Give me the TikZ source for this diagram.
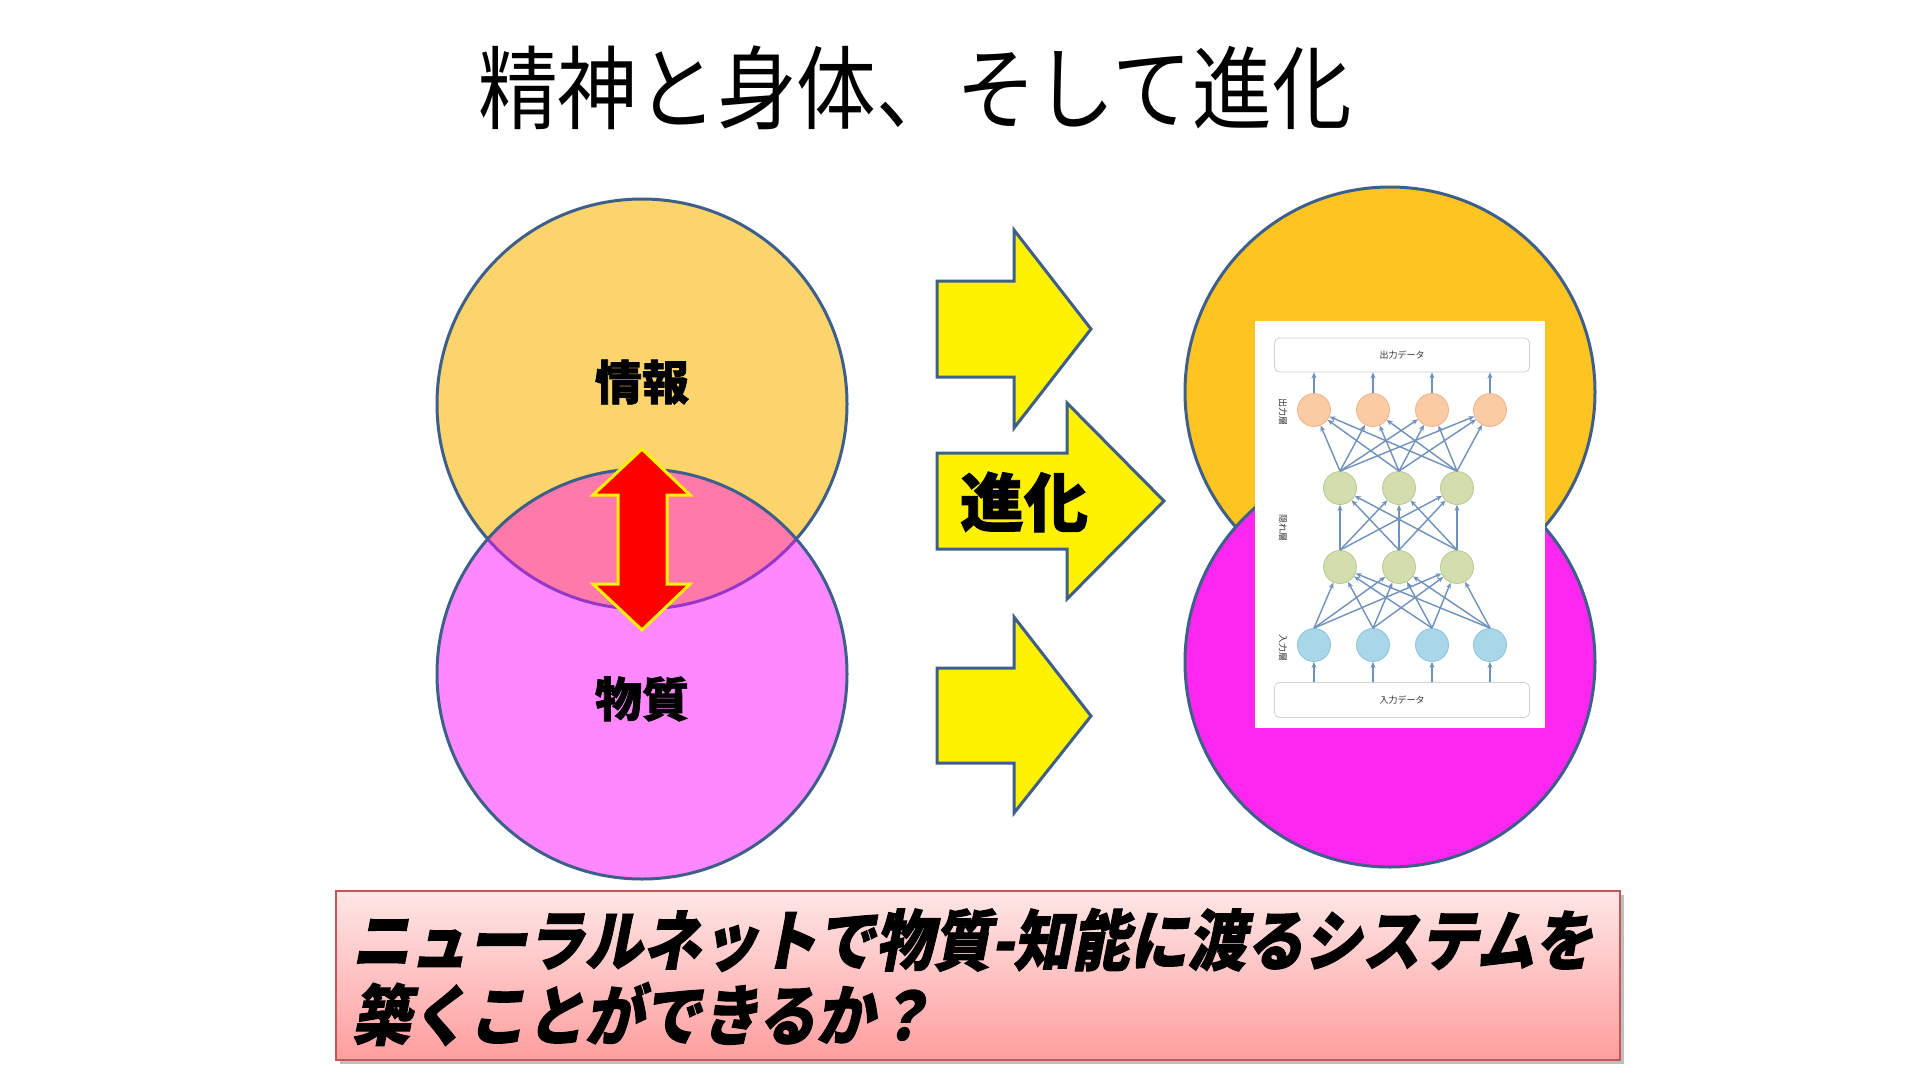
\documentclass[tikz,border=0pt]{standalone}
\usepackage{fontspec}
\setmainfont{Noto Sans CJK JP}
\newfontfamily\jpit{Noto Sans CJK JP}[FakeSlant=0.22, FakeBold=1.5]
\newfontfamily\jpheavy{Noto Sans CJK JP}[FakeBold=1.5]
\usetikzlibrary{arrows.meta}
\definecolor{upL}{RGB}{251,213,107}
\definecolor{lowL}{RGB}{255,136,255}
\definecolor{ovL}{RGB}{255,122,170}
\definecolor{upR}{RGB}{253,196,34}
\definecolor{lowR}{RGB}{255,38,240}
\definecolor{edge}{RGB}{61,95,138}
\definecolor{purp}{RGB}{150,55,200}
\definecolor{nnedge}{RGB}{110,145,190}
\definecolor{outc}{RGB}{251,203,164}
\definecolor{outb}{RGB}{240,180,140}
\definecolor{hidc}{RGB}{210,222,174}
\definecolor{hidb}{RGB}{185,201,143}
\definecolor{inc}{RGB}{169,214,232}
\definecolor{inb}{RGB}{142,195,216}
\definecolor{boxtop}{RGB}{255,230,230}
\definecolor{boxbot}{RGB}{255,158,158}
\definecolor{boxline}{RGB}{200,85,85}
\tikzset{
  bigcirc/.style={circle, minimum size=410pt, inner sep=0pt, draw=edge, line width=3pt},
  yarrow/.style={fill=yellow, draw=edge, line width=3pt, line join=miter},
  nn/.style={circle, minimum size=33pt, inner sep=0pt, line width=0.8pt},
  nnline/.style={draw=nnedge, line width=1.4pt, -{Stealth[length=6pt,width=5pt]}},
  databox/.style={draw=black!18, line width=0.8pt, rounded corners=5pt, fill=white, minimum width=255pt, inner sep=0pt},
  lbl/.style={font=\jpheavy\bfseries\fontsize{47}{50}\selectfont},
  side/.style={rotate=-90, font=\fontsize{9}{10}\selectfont, text=black!80},
  qtext/.style={anchor=west, xscale=0.88, font=\jpit\bfseries\fontsize{66}{70}\selectfont, inner sep=0pt}
}
\begin{document}
\begin{tikzpicture}[x=1pt,y=-1pt]
\fill[white] (0,0) rectangle (1920,1080);
\useasboundingbox (0,0) rectangle (1920,1080);

% title
\node[xscale=0.875, font=\fontsize{91}{100}\selectfont] (title) at (915,88) {精神と身体、そして進化};

% left circles
\node[bigcirc, fill=upL] (infoC) at (642,404) {};
\fill[lowL] (642,674) circle (205);
\begin{scope}
  \clip (642,404) circle (205);
  \fill[ovL] (642,674) circle (205);
\end{scope}
\begin{scope}
  \clip (642,674) circle (205);
  \draw[purp, line width=3pt] (642,404) circle (205);
\end{scope}
\node[bigcirc] (matC) at (642,674) {};
\node[lbl] (info) at (642,382) {情報};
\node[lbl] (mat) at (642,699) {物質};

% red double arrow
\draw[fill=red, draw=yellow, line width=3pt, line join=miter]
  (642,449) -- (690,495) -- (667,495) -- (667,584) -- (690,584) -- (642,630)
  -- (593,584) -- (618,584) -- (618,495) -- (593,495) -- cycle;

% yellow arrows
\draw[yarrow] (937,281) -- (1014,281) -- (1014,230) -- (1091,329) -- (1014,428) -- (1014,377) -- (937,377) -- cycle;
\draw[yarrow] (937,453) -- (1067,453) -- (1067,403) -- (1164,501) -- (1067,599) -- (1067,549) -- (937,549) -- cycle;
\draw[yarrow] (937,668) -- (1014,668) -- (1014,617) -- (1091,716) -- (1014,813) -- (1014,763) -- (937,763) -- cycle;
\node[font=\jpheavy\bfseries\fontsize{64}{70}\selectfont] (evo) at (1024,502) {進化};

% right circles
\node[bigcirc, fill=upR] (upRC) at (1390,392) {};
\node[bigcirc, fill=lowR] (lowRC) at (1390,662) {};

% neural network picture
\fill[white] (1255,321) rectangle (1545,728);
\node[databox, minimum height=34pt] (outdata) at (1402,355) {};
\node[font=\fontsize{9}{10}\selectfont, text=black!80] at (outdata) {出力データ};
\node[databox, minimum height=35pt] (indata) at (1402,700) {};
\node[font=\fontsize{9}{10}\selectfont, text=black!80] at (indata) {入力データ};
\node[side] (lo) at (1283,412) {出力層};
\node[side] (lh) at (1283,528) {隠れ層};
\node[side] (li) at (1283,648) {入力層};

\foreach \k/\x in {1/1314,2/1373,3/1432,4/1490}{
  \node[nn, fill=outc, draw=outb] (o\k) at (\x,410) {};
  \node[nn, fill=inc, draw=inb] (i\k) at (\x,645) {};
}
\foreach \k/\x in {1/1340,2/1399,3/1457}{
  \node[nn, fill=hidc, draw=hidb] (a\k) at (\x,488) {};
  \node[nn, fill=hidc, draw=hidb] (b\k) at (\x,567) {};
}
\foreach \k in {1,2,3,4}{
  \draw[nnline] (indata.north -| i\k) -- (i\k);
  \draw[nnline] (o\k) -- (outdata.south -| o\k);
  \foreach \j in {1,2,3}{
    \draw[nnline] (i\k.north) -- (b\j);
    \draw[nnline] (a\j.north) -- (o\k);
  }
}
\foreach \k in {1,2,3}{
  \foreach \j in {1,2,3}{
    \draw[nnline] (b\k.north) -- (a\j);
  }
}

% bottom question box
\fill[black!25] (340,895) rectangle (1624,1064);
\node[draw=boxline, line width=1.5pt, minimum width=1284pt, minimum height=169pt, inner sep=0pt,
      top color=boxtop, bottom color=boxbot] (qbox) at (978,975.5) {};
\node[qtext] (q1) at (352,940) {ニューラルネットで物質-知能に渡るシステムを};
\node[qtext] (q2) at (352,1014) {築くことができるか？};
\end{tikzpicture}
\end{document}
